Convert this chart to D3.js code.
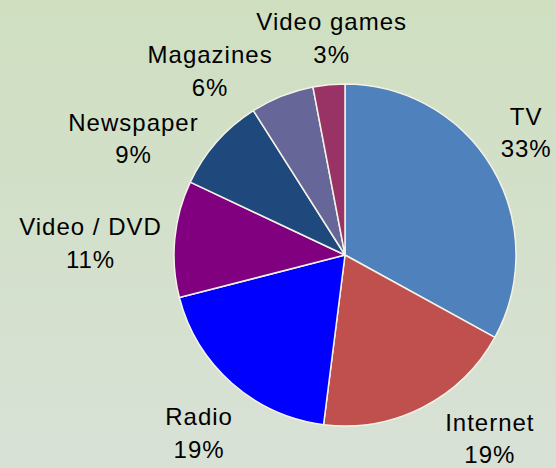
<!DOCTYPE html>
<html>
<head>
<meta charset="utf-8">
<script src="https://cdn.jsdelivr.net/npm/d3@7"></script>
<style>
  html, body { margin: 0; padding: 0; }
  svg { display: block; }
</style>
</head>
<body>
<svg id="chart" width="556" height="468"></svg>
<script>
// Share of media time by channel (percent)
const categories = ["TV", "Internet", "Radio", "Video / DVD", "Newspaper", "Magazines", "Video games"];
const shares = [33, 19, 19, 11, 9, 6, 3];
const sliceColors = ["#4f81bd", "#c0504d", "#0000ff", "#800080", "#1f497d", "#666699", "#993366"];
// Fine placement of each label block relative to its slice's label arc
const labelNudge = [[-19, -4], [39, -23], [7, 4], [-24, 10], [-38, 37], [-50, 32], [8, 14]];

const W = 556, H = 468;
const cx = 345, cy = 255, radius = 171, labelRadius = 232;

const svg = d3.select("#chart");

// Background wash
const defs = svg.append("defs");
const grad = defs.append("linearGradient")
  .attr("id", "bg").attr("x1", 0).attr("y1", 0).attr("x2", 0).attr("y2", 1);
grad.append("stop").attr("offset", "0%").attr("stop-color", "#cfdfc0");
grad.append("stop").attr("offset", "100%").attr("stop-color", "#d8e1d6");
svg.append("rect").attr("width", W).attr("height", H).attr("fill", "url(#bg)");

const data = categories.map((c, i) => ({ name: c, value: shares[i], color: sliceColors[i], nudge: labelNudge[i] }));

const pie = d3.pie().value(d => d.value).sort(null).startAngle(0).endAngle(2 * Math.PI);
const arcs = pie(data);

const arc = d3.arc().innerRadius(0).outerRadius(radius);
const labelArc = d3.arc().innerRadius(labelRadius).outerRadius(labelRadius);

const g = svg.append("g").attr("transform", `translate(${cx},${cy})`);

g.selectAll("path.slice")
  .data(arcs)
  .join("path")
  .attr("class", "slice")
  .attr("d", arc)
  .attr("fill", d => d.data.color)
  .attr("stroke", "#f4f2e6")
  .attr("stroke-width", 1.5)
  .attr("stroke-linejoin", "round");

const fmt = d => d3.format(".0f")(d) + "%";

const labels = g.selectAll("text.label")
  .data(arcs)
  .join("text")
  .attr("class", "label")
  .attr("text-anchor", "middle")
  .attr("font-family", "'Liberation Sans', Arial, sans-serif")
  .attr("font-size", 24)
  .attr("letter-spacing", "1px")
  .attr("fill", "#000")
  .attr("transform", d => {
    const [x, y] = labelArc.centroid(d);
    return `translate(${x + d.data.nudge[0] + 0.5},${y + d.data.nudge[1]})`;
  });

labels.append("tspan")
  .attr("x", 0).attr("y", -8)
  .text(d => d.data.name);
labels.append("tspan")
  .attr("x", 0).attr("y", 24.5)
  .text(d => fmt(d.data.value));
</script>
</body>
</html>
